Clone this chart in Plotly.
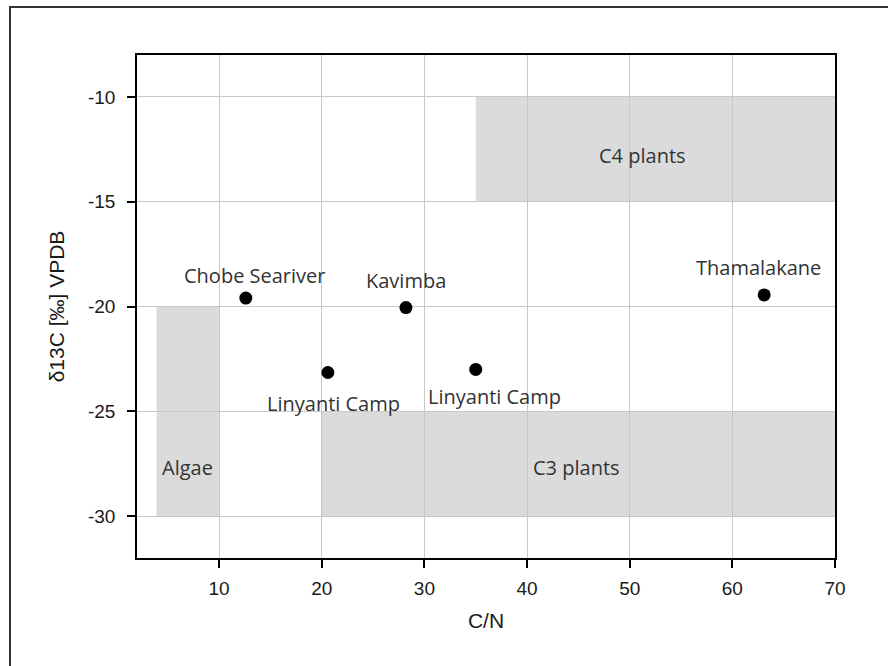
import plotly.graph_objects as go

# Sample sites: C/N ratio and delta-13C (permil, VPDB)
sites = ["Chobe Seariver", "Kavimba", "Linyanti Camp", "Linyanti Camp", "Thamalakane"]
cn_ratio = [12.6, 28.2, 20.6, 35.0, 63.1]
d13c = [-19.6, -20.05, -23.15, -23.0, -19.45]

# Label offsets (px) relative to each point
label_dx = [9, 0, 6, 19, -6]
label_dy = [23, 27, -31, -27, 27]

# Source end-member fields: name, x0, x1, y0, y1, label x, label y
fields = ["Algae", "C3 plants", "C4 plants"]
field_x0 = [3.9, 20, 35]
field_x1 = [10, 70, 70]
field_y0 = [-30, -30, -15]
field_y1 = [-20, -25, -10]
field_lx = [6.9, 44.8, 51.2]
field_ly = [-27.7, -27.7, -12.8]

x_ticks = [10, 20, 30, 40, 50, 60, 70]
y_ticks = [-30, -25, -20, -15, -10]
y_tick_text = ["-30", "-25", "-20", "-15", "-10"]

W, H = 888, 666
ML, MR, MT, MB = 137, 53, 55, 108

fig = go.Figure()

fig.add_trace(go.Scatter(
    x=cn_ratio, y=d13c, mode="markers",
    marker=dict(size=13, color="black"),
    hoverinfo="text", hovertext=sites, showlegend=False,
))

for name, x0, x1, y0, y1, lx, ly in zip(fields, field_x0, field_x1, field_y0,
                                        field_y1, field_lx, field_ly):
    fig.add_shape(type="rect", x0=x0, x1=x1, y0=y0, y1=y1,
                  xref="x", yref="y", layer="below",
                  fillcolor="#dcdbdc", line=dict(width=0))
    fig.add_annotation(x=lx, y=ly, text=name, showarrow=False,
                       font=dict(family="Open Sans", size=20, color="#333333"))

for name, x, y, dx, dy in zip(sites, cn_ratio, d13c, label_dx, label_dy):
    fig.add_annotation(x=x, y=y, text=name, showarrow=False,
                       xshift=dx, yshift=dy,
                       font=dict(family="Open Sans", size=20, color="#333333"))

# Outer frame around the figure (left and top edges visible)
pw = W - ML - MR
ph = H - MT - MB
fig.add_shape(type="rect", xref="paper", yref="paper",
              x0=(10 - ML) / pw, x1=(W + 10 - ML) / pw,
              y0=(H - MB - (H + 10)) / ph, y1=(H - MB - 7) / ph,
              line=dict(color="#333333", width=2), fillcolor="rgba(0,0,0,0)",
              layer="above")

axis_common = dict(
    showline=True, linecolor="black", linewidth=1.5, mirror=True,
    showgrid=True, gridcolor="#c8c8c8", gridwidth=1,
    ticks="outside", ticklen=8, tickcolor="black", tickwidth=1.5,
    zeroline=False,
    tickfont=dict(family="Liberation Sans, Arial", size=19, color="#1a1a1a"),
)

fig.update_xaxes(range=[2, 70], tickvals=x_ticks,
                 title=dict(text="C/N", standoff=16,
                            font=dict(family="Liberation Sans, Arial", size=21, color="#1a1a1a")),
                 ticklabelstandoff=4, **axis_common)
fig.update_yaxes(range=[-32, -8], tickvals=y_ticks, ticktext=y_tick_text,
                 title=dict(text="δ13C [‰] VPDB", standoff=18,
                            font=dict(family="Liberation Sans, Arial", size=21, color="#1a1a1a")),
                 ticklabelstandoff=8, **axis_common)

fig.update_layout(
    width=W, height=H,
    margin=dict(l=ML, r=MR, t=MT, b=MB),
    paper_bgcolor="white", plot_bgcolor="white",
)

fig.write_html("out.html")
